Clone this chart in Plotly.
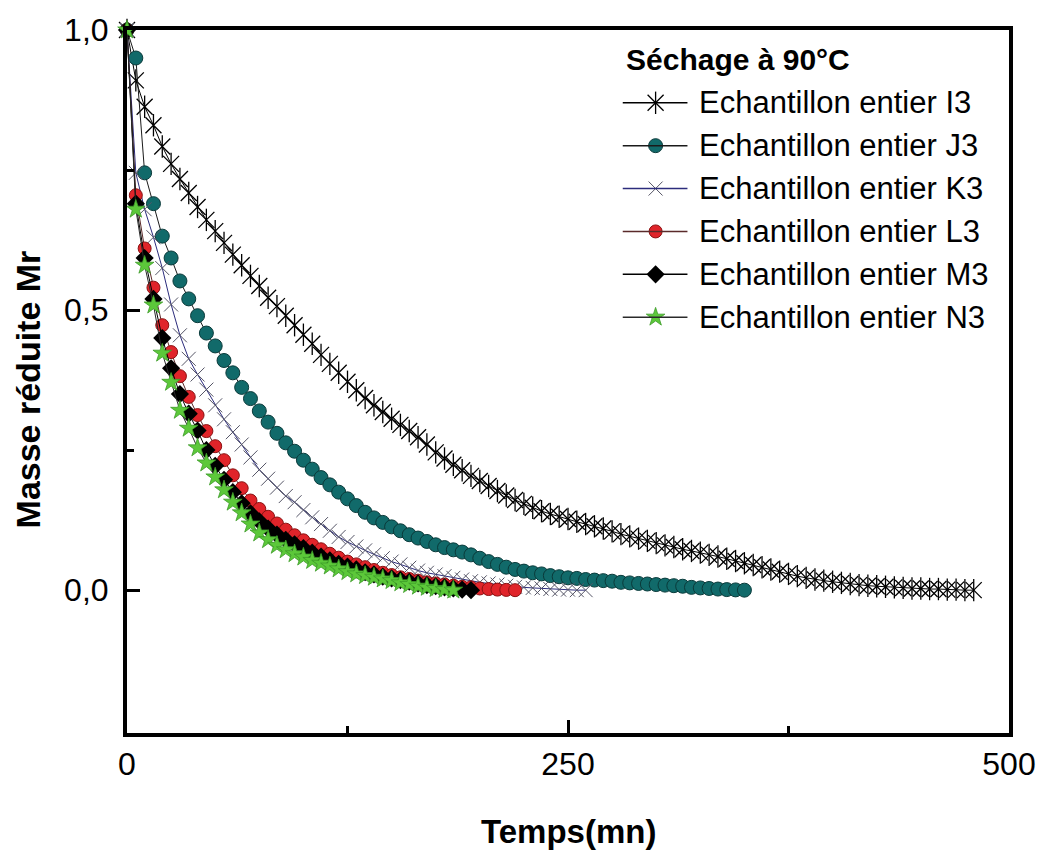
import plotly.graph_objects as go

# ---- Drying kinetics at 90 °C : reduced mass Mr vs time (min) ----
temps_I3 = list(range(0, 485, 5))
mr_I3 = [1.0, 0.91, 0.863, 0.83, 0.792, 0.761, 0.734, 0.709, 0.684, 0.661,
         0.641, 0.620, 0.599, 0.580, 0.561, 0.543, 0.522, 0.507, 0.490, 0.473,
         0.456, 0.440, 0.420, 0.404, 0.388, 0.372, 0.357, 0.343, 0.330, 0.318,
         0.306, 0.295, 0.284, 0.273, 0.260, 0.246, 0.235, 0.224, 0.214, 0.204,
         0.195, 0.186, 0.177, 0.169, 0.161, 0.154, 0.147, 0.141, 0.136, 0.131,
         0.127, 0.122, 0.118, 0.114, 0.110, 0.105, 0.100, 0.096, 0.092, 0.088,
         0.084, 0.080, 0.077, 0.073, 0.070, 0.067, 0.063, 0.060, 0.056, 0.052,
         0.048, 0.045, 0.041, 0.037, 0.033, 0.029, 0.025, 0.022, 0.019, 0.017,
         0.015, 0.013, 0.011, 0.009, 0.008, 0.007, 0.006, 0.005, 0.004, 0.003,
         0.003, 0.002, 0.002, 0.001, 0.001, 0.0, 0.0]

temps_J3 = list(range(0, 355, 5))
mr_J3 = [1.0, 0.95, 0.745, 0.69, 0.632, 0.593, 0.552, 0.52, 0.49, 0.459,
         0.436, 0.41, 0.388, 0.362, 0.342, 0.32, 0.30, 0.28, 0.263, 0.248,
         0.232, 0.216, 0.201, 0.188, 0.175, 0.163, 0.151, 0.139, 0.129, 0.121,
         0.113, 0.106, 0.099, 0.093, 0.087, 0.081, 0.076, 0.072, 0.068, 0.063,
         0.057, 0.051, 0.046, 0.041, 0.037, 0.034, 0.031, 0.029, 0.026, 0.024,
         0.022, 0.021, 0.019, 0.018, 0.017, 0.016, 0.014, 0.013, 0.012, 0.011,
         0.010, 0.009, 0.008, 0.007, 0.005, 0.004, 0.003, 0.002, 0.001, 0.0005,
         0.0]

temps_K3 = list(range(0, 265, 5))
mr_K3 = [1.0, 0.745, 0.68, 0.63, 0.575, 0.51, 0.455, 0.413, 0.385, 0.358,
         0.33, 0.305, 0.282, 0.26, 0.237, 0.215, 0.199, 0.183, 0.168, 0.157,
         0.143, 0.13, 0.118, 0.106, 0.095, 0.086, 0.078, 0.071, 0.064, 0.057,
         0.051, 0.046, 0.040, 0.035, 0.031, 0.028, 0.025, 0.022, 0.019, 0.016,
         0.014, 0.012, 0.010, 0.008, 0.006, 0.005, 0.004, 0.003, 0.002, 0.001,
         0.001, 0.0, 0.0]

temps_L3 = list(range(0, 225, 5))
mr_L3 = [1.0, 0.705, 0.61, 0.54, 0.473, 0.425, 0.382, 0.345, 0.3125, 0.284,
         0.257, 0.232, 0.205, 0.182, 0.16, 0.145, 0.131, 0.119, 0.108, 0.098,
         0.089, 0.081, 0.073, 0.065, 0.058, 0.051, 0.046, 0.041, 0.036, 0.031,
         0.027, 0.023, 0.020, 0.017, 0.014, 0.012, 0.010, 0.008, 0.006, 0.005,
         0.003, 0.002, 0.001, 0.0005, 0.0]

temps_M3 = list(range(0, 200, 5))
mr_M3 = [1.0, 0.69, 0.593, 0.52, 0.45, 0.396, 0.35, 0.315, 0.285, 0.25,
         0.222, 0.197, 0.175, 0.155, 0.137, 0.123, 0.11, 0.099, 0.09, 0.082,
         0.075, 0.067, 0.06, 0.053, 0.047, 0.042, 0.037, 0.032, 0.028, 0.024,
         0.021, 0.018, 0.015, 0.012, 0.009, 0.007, 0.005, 0.003, 0.001, 0.0]

temps_N3 = list(range(0, 190, 5))
mr_N3 = [1.0, 0.68, 0.58, 0.509, 0.423, 0.371, 0.321, 0.289, 0.254, 0.227,
         0.202, 0.179, 0.157, 0.138, 0.118, 0.102, 0.09, 0.08, 0.072, 0.065,
         0.059, 0.053, 0.048, 0.043, 0.038, 0.033, 0.029, 0.026, 0.023, 0.02,
         0.017, 0.013, 0.01, 0.007, 0.005, 0.003, 0.001, 0.0]

legend_title = "Séchage à 90°C"
legend_labels = ["Echantillon entier I3", "Echantillon entier J3", "Echantillon entier K3",
                 "Echantillon entier L3", "Echantillon entier M3", "Echantillon entier N3"]

FONT = "Liberation Sans, Arial, sans-serif"

# marker styles per series: list of (symbol, size, fill, outline colour, outline width)
styles = [
    dict(line="#000000", marks=[("x-thin-open", 16, "#000000", "#1a1a1a", 1.3),
                                ("line-ns-open", 16, "#000000", "#1a1a1a", 1.3)]),
    dict(line="#1a1a1a", marks=[("circle", 14, "#116a6a", "#0a3a3a", 1)]),
    dict(line="#2c2c7c", marks=[("x-thin-open", 14, "#555566", "#555566", 1)]),
    dict(line="#5a2a2a", marks=[("circle", 13, "#e0242a", "#8a1212", 1)]),
    dict(line="#000000", marks=[("diamond", 14, "#000000", "#000000", 0)]),
    dict(line="#2a2a2a", marks=[("star", 14, "#5cc83a", "#3c9a28", 0.8)]),
]

series = [(temps_I3, mr_I3), (temps_J3, mr_J3), (temps_K3, mr_K3),
          (temps_L3, mr_L3), (temps_M3, mr_M3), (temps_N3, mr_N3)]

fig = go.Figure()

for (t, m), st, name in zip(series, styles, legend_labels):
    for i, (sym, size, fill, oc, ow) in enumerate(st["marks"]):
        fig.add_trace(go.Scatter(
            x=t, y=m, name=name, showlegend=False,
            mode="lines+markers" if i == 0 else "markers",
            line=dict(color=st["line"], width=1),
            marker=dict(symbol=sym, size=size, color=fill,
                        line=dict(color=oc, width=ow)),
            cliponaxis=False,
        ))

# ---- legend drawn in pixel layout, converted to paper fractions ----
W, H = 1048, 851
L, R, T, B = 127, 35, 28, 118
pw, ph = W - L - R, H - T - B


def px_x(v):
    return (v - L) / pw


def px_y(v):
    return (H - B - v) / ph


row_y = [101, 144, 187, 230, 273, 316]
line_x0, line_x1, mark_x, text_x = 625, 690, 658, 700

for yy, st, name in zip(row_y, styles, legend_labels):
    fig.add_shape(type="line", xref="paper", yref="paper",
                  x0=px_x(line_x0), x1=px_x(line_x1), y0=px_y(yy), y1=px_y(yy),
                  line=dict(color=st["line"], width=1.5))
    for sym, size, fill, oc, ow in st["marks"]:
        fig.add_trace(go.Scatter(
            x=[px_x(mark_x)], y=[px_y(yy)], xaxis="x2", yaxis="y2",
            mode="markers", showlegend=False, hoverinfo="skip",
            marker=dict(symbol=sym, size=size, color=fill,
                        line=dict(color=oc, width=ow)),
        ))
    fig.add_annotation(xref="paper", yref="paper", x=px_x(text_x), y=px_y(yy),
                       text=name, showarrow=False, xanchor="left", yanchor="middle",
                       font=dict(family=FONT, size=31, color="#000000"))

fig.add_annotation(xref="paper", yref="paper", x=px_x(626), y=px_y(58),
                   text="<b>" + legend_title + "</b>", showarrow=False,
                   xanchor="left", yanchor="middle",
                   font=dict(family=FONT, size=30, color="#000000"))

# axis titles
fig.add_annotation(xref="paper", yref="paper", x=px_x(570), y=px_y(832),
                   text="<b>Temps(mn)</b>", showarrow=False,
                   xanchor="center", yanchor="middle",
                   font=dict(family=FONT, size=33, color="#000000"))
fig.add_annotation(xref="paper", yref="paper", x=px_x(28), y=px_y(388),
                   text="<b>Masse réduite Mr</b>", showarrow=False, textangle=-90,
                   xanchor="center", yanchor="middle",
                   font=dict(family=FONT, size=34, color="#000000"))

axis_common = dict(showline=True, linecolor="#000000", linewidth=4, mirror=True,
                   ticks="inside", ticklen=13, tickwidth=3, tickcolor="#000000",
                   showgrid=False, zeroline=False,
                   tickfont=dict(family=FONT, size=32, color="#000000"))

fig.update_layout(
    width=W, height=H,
    margin=dict(l=L, r=R, t=T, b=B),
    paper_bgcolor="#ffffff", plot_bgcolor="#ffffff",
    showlegend=False,
    xaxis=dict(range=[0, 500], tickvals=[0, 250, 500], ticktext=["0", "250", "500"],
               minor=dict(tickmode="array", tickvals=[125, 375], ticks="inside",
                          ticklen=7, tickwidth=3, tickcolor="#000000"),
               **axis_common),
    yaxis=dict(range=[-0.255, 1.0], tickvals=[0, 0.5, 1.0],
               ticktext=["0,0", "0,5", "1,0"], ticklabelstandoff=8,
               minor=dict(tickmode="array", tickvals=[0.25, 0.75], ticks="inside",
                          ticklen=7, tickwidth=3, tickcolor="#000000"),
               **axis_common),
    xaxis2=dict(range=[0, 1], overlaying="x", visible=False),
    yaxis2=dict(range=[0, 1], overlaying="y", visible=False),
)

fig.write_html("out.html")
